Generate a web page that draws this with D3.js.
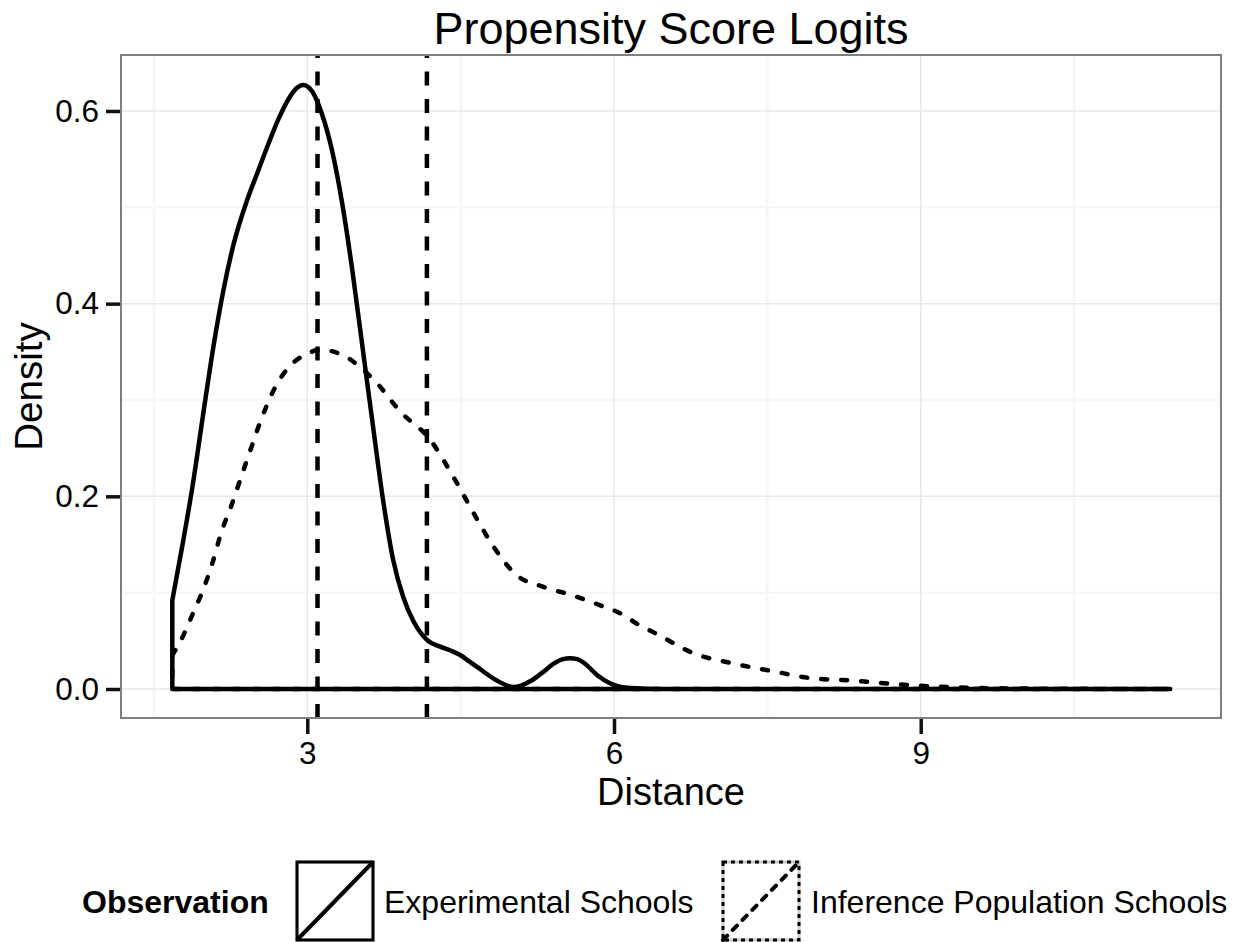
<!DOCTYPE html>
<html>
<head>
<meta charset="utf-8">
<script src="https://cdnjs.cloudflare.com/ajax/libs/d3/7.8.5/d3.min.js"></script>
<style>
  body { margin: 0; background: #fff; }
  text { font-family: "Liberation Sans", Arial, sans-serif; fill: #000; }
</style>
</head>
<body>
<svg id="chart" width="1242" height="942"></svg>
<script>

// data
var expX = [1.68, 1.78, 1.88, 1.98, 2.08, 2.18, 2.28, 2.41, 2.52, 2.62, 2.72, 2.82, 2.90, 2.96, 3.05, 3.14, 3.24, 3.34, 3.44, 3.54, 3.64, 3.74, 3.84, 3.94, 4.04, 4.17, 4.30, 4.40, 4.50, 4.58, 4.66, 4.85, 5.02, 5.18, 5.30, 5.42, 5.50, 5.57, 5.64, 5.72, 5.84, 5.96, 6.16, 6.5, 11.44];
var expY = [0.092, 0.150, 0.212, 0.284, 0.354, 0.414, 0.462, 0.507, 0.538, 0.566, 0.592, 0.613, 0.624, 0.627, 0.620, 0.598, 0.560, 0.505, 0.435, 0.355, 0.275, 0.197, 0.134, 0.095, 0.070, 0.051, 0.044, 0.040, 0.035, 0.029, 0.023, 0.009, 0.002, 0.008, 0.017, 0.027, 0.031, 0.032, 0.031, 0.026, 0.014, 0.006, 0.001, 0, 0];

var infX = [1.68, 1.78, 1.88, 1.97, 2.07, 2.16, 2.26, 2.34, 2.45, 2.55, 2.68, 2.81, 2.98, 3.13, 3.36, 3.56, 3.66, 3.91, 4.20, 4.43, 4.63, 4.82, 5.05, 5.31, 5.57, 5.86, 6.09, 6.22, 6.42, 6.78, 7.14, 7.53, 7.95, 8.34, 8.73, 9.16, 9.6, 10.2, 11.44];
var infY = [0.035, 0.054, 0.078, 0.100, 0.130, 0.163, 0.191, 0.216, 0.250, 0.280, 0.312, 0.333, 0.347, 0.352, 0.346, 0.330, 0.320, 0.288, 0.259, 0.220, 0.182, 0.148, 0.118, 0.106, 0.098, 0.087, 0.077, 0.068, 0.057, 0.037, 0.027, 0.019, 0.011, 0.0087, 0.0052, 0.0024, 0.001, 0.0003, 0];

var vlines = [3.10, 4.17];

var xMajor = [3, 6, 9];
	xMinor = [1.5, 4.5, 7.5, 10.5];
	yMajor = [0, 0.2, 0.4, 0.6];
	yMinor = [0.1, 0.3, 0.5];

var legendLabels = ["Experimental Schools", "Inference Population Schools"];


var svg = d3.select("#chart");

var panel = {left: 121, right: 1221, top: 55, bottom: 718};

var x = d3.scaleLinear()
	.domain([1.178, 11.937])
	.range([panel.left, panel.right]);

var y = d3.scaleLinear()
	.domain([-0.0301, 0.6581])
	.range([panel.bottom, panel.top]);

svg.append("rect")
	.attr("width", 1242).attr("height", 942)
	.attr("fill", "#fff");

// grid lines, minor first
var grid = svg.append("g");
grid.selectAll(".xminor").data(xMinor).enter().append("line")
	.attr("x1", d => x(d)).attr("x2", d => x(d))
	.attr("y1", panel.top).attr("y2", panel.bottom)
	.attr("stroke", "#f7f7f7").attr("stroke-width", 2.5);
grid.selectAll(".yminor").data(yMinor).enter().append("line")
	.attr("y1", d => y(d)).attr("y2", d => y(d))
	.attr("x1", panel.left).attr("x2", panel.right)
	.attr("stroke", "#f7f7f7").attr("stroke-width", 2.5);
grid.selectAll(".xmajor").data(xMajor).enter().append("line")
	.attr("x1", d => x(d)).attr("x2", d => x(d))
	.attr("y1", panel.top).attr("y2", panel.bottom)
	.attr("stroke", "#e8e8e8").attr("stroke-width", 1.5);
grid.selectAll(".ymajor").data(yMajor).enter().append("line")
	.attr("y1", d => y(d)).attr("y2", d => y(d))
	.attr("x1", panel.left).attr("x2", panel.right)
	.attr("stroke", "#e8e8e8").attr("stroke-width", 1.5);

// density outlines (closed like geom_density)
var area = d3.area()
	.x(d => x(d[0]))
	.y0(y(0))
	.y1(d => y(d[1]))
	.curve(d3.curveMonotoneX);

svg.append("path")
	.datum(d3.zip(infX, infY))
	.attr("d", area)
	.attr("fill", "none")
	.attr("stroke", "#000")
	.attr("stroke-width", 4.5)
	.attr("stroke-linecap", "round")
	.attr("stroke-dasharray", "6,14");

svg.append("path")
	.datum(d3.zip(expX, expY))
	.attr("d", area)
	.attr("fill", "none")
	.attr("stroke", "#000")
	.attr("stroke-width", 4.5)
	.attr("stroke-linejoin", "round");

// dashed vertical lines
svg.selectAll(".vline").data(vlines).enter().append("line")
	.attr("x1", d => x(d)).attr("x2", d => x(d))
	.attr("y1", panel.bottom).attr("y2", panel.top)
	.attr("stroke", "#000")
	.attr("stroke-width", 4.5)
	.attr("stroke-dasharray", "14,13.5");

// panel border
svg.append("rect")
	.attr("x", panel.left).attr("y", panel.top)
	.attr("width", panel.right - panel.left)
	.attr("height", panel.bottom - panel.top)
	.attr("fill", "none")
	.attr("stroke", "#7f7f7f")
	.attr("stroke-width", 2);

// axes
var yAxis = svg.append("g")
	.attr("transform", "translate(" + (panel.left - 1) + ",0)")
	.call(d3.axisLeft(y).tickValues(yMajor).tickFormat(d3.format(".1f")).tickSize(14).tickPadding(7));
var xAxis = svg.append("g")
	.attr("transform", "translate(0," + (panel.bottom + 1) + ")")
	.call(d3.axisBottom(x).tickValues(xMajor).tickFormat(d3.format("d")).tickSize(15).tickPadding(8));

[yAxis, xAxis].forEach(function(ax){
	ax.select(".domain").remove();
	ax.selectAll(".tick line").attr("stroke", "#111").attr("stroke-width", 3.5);
	ax.selectAll(".tick text")
		.style("font-family", '"Liberation Sans", Arial, sans-serif')
		.style("font-size", "31.5px")
		.attr("fill", "#000");
});
xAxis.selectAll(".tick text").attr("dy", "0.71em");

// titles
svg.append("text")
	.attr("x", (panel.left + panel.right) / 2).attr("y", 44)
	.attr("text-anchor", "middle")
	.style("font-size", "45px")
	.text("Propensity Score Logits");

svg.append("text")
	.attr("x", (panel.left + panel.right) / 2).attr("y", 805)
	.attr("text-anchor", "middle")
	.style("font-size", "38px")
	.text("Distance");

svg.append("text")
	.attr("transform", "translate(42," + ((panel.top + panel.bottom) / 2) + ") rotate(-90)")
	.attr("text-anchor", "middle")
	.style("font-size", "38.5px")
	.text("Density");

// legend
var legend = svg.append("g");
legend.append("text")
	.attr("x", 82).attr("y", 913)
	.style("font-size", "32px").style("font-weight", "bold")
	.text("Observation");

var keys = [
	{x: 297, dash: null, textX: 384},
	{x: 723, dash: "6,8", textX: 811}
];
keys.forEach(function(k, i){
	var g = legend.append("g").attr("transform", "translate(" + k.x + ",862)");
	g.append("rect")
		.attr("width", 76).attr("height", 78)
		.attr("fill", "#fff")
		.attr("stroke", "#ccc").attr("stroke-width", 3);
	g.append("rect")
		.attr("width", 76).attr("height", 78)
		.attr("fill", "none")
		.attr("stroke", "#000").attr("stroke-width", 3)
		.attr("stroke-dasharray", k.dash ? "4,4" : null);
	g.append("line")
		.attr("x1", 0).attr("y1", 78).attr("x2", 76).attr("y2", 0)
		.attr("stroke", "#000").attr("stroke-width", 4)
		.attr("stroke-linecap", k.dash ? "round" : "butt")
		.attr("stroke-dasharray", k.dash);
	legend.append("text")
		.attr("x", k.textX).attr("y", 913)
		.style("font-size", "32px")
		.text(legendLabels[i]);
});

</script>
</body>
</html>
